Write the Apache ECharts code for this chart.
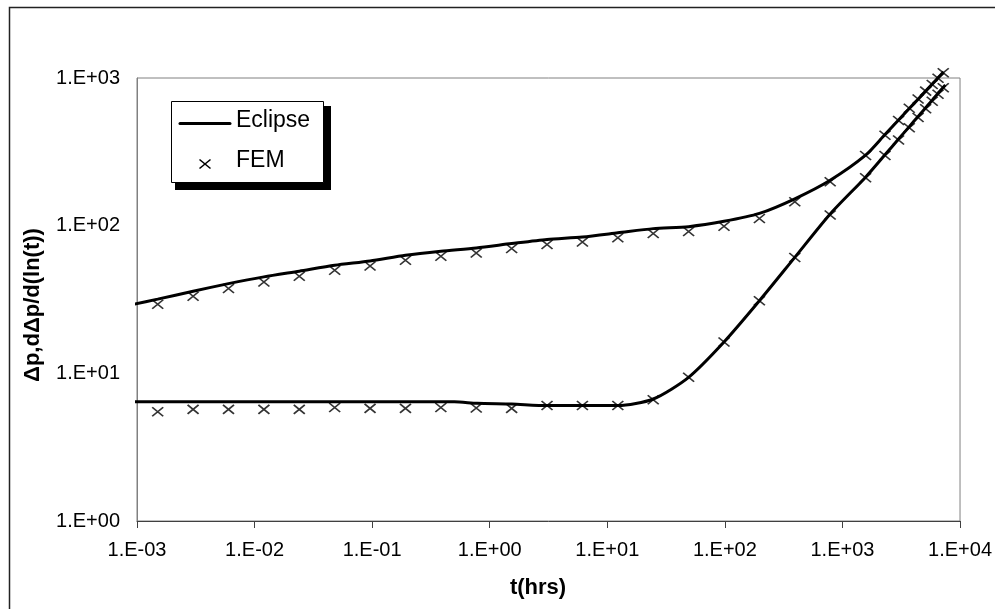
<!DOCTYPE html>
<html>
<head>
<meta charset="utf-8">
<script src="https://cdn.jsdelivr.net/npm/echarts@6/dist/echarts.min.js"></script>
<style>
html,body{margin:0;padding:0;background:#fff;}
#chart{width:995px;height:609px;}
</style>
</head>
<body>
<div id="chart"></div>
<script>
// ---- data ----
const xTickLabels = ['1.E-03','1.E-02','1.E-01','1.E+00','1.E+01','1.E+02','1.E+03','1.E+04'];
const yTickLabels = ['1.E+00','1.E+01','1.E+02','1.E+03'];

const femTime = [0.0015,0.003,0.006,0.012,0.024,0.048,0.096,0.192,0.384,0.768,1.536,3.072,6.144,12.29,24.58,49.15,98.3,196.6,393.2,786.4,1573,2300,3000,3700,4400,5100,5800,6500,7200];
const femDp = [29.4,33.3,37.5,41.6,45.5,49.9,53.4,58.3,62.1,65.4,70,74.6,77.6,82.8,88.4,91.2,99,112,145,198,299,410,515,625,720,815,905,995,1085];
const femDeriv = [5.49,5.70,5.70,5.70,5.70,5.88,5.79,5.79,5.86,5.82,5.79,6.05,6.05,6.05,6.63,9.4,16.3,31,60.8,118,211,299,380,460,540,620,695,775,860];

const eclDpTime = [0.0009,0.0015,0.003,0.006,0.012,0.024,0.048,0.096,0.192,0.384,0.768,1.536,3.072,6.144,12.29,24.58,49.15,98.3,196.6,393.2,786.4,1573,2300,3000,3700,4400,5100,5800,6500,7260];
const eclDp = [29.2,31.8,36.0,40.5,45.0,49.2,53.9,57.7,63.0,67.1,70.6,75.6,80.6,83.8,89.4,95.5,98.5,107,121,152,203,300,414,519,621,719,815,909,1002,1100];

const eclDerivTime = [0.0009,0.5,0.78,1.536,3.072,6.144,12.29,24.58,49.15,98.3,196.6,393.2,786.4,1573,2300,3000,3700,4400,5100,5800,6500,7500];
const eclDeriv = [6.41,6.41,6.26,6.19,6.05,6.05,6.05,6.7,9.4,16.3,31,61,120,213,302,386,468,549,628,707,786,897];

const seriesNames = ['Eclipse','FEM'];
const xTitle = 't(hrs)';
const yTitle = 'Δp,dΔp/d(ln(t))';

// ---- chart ----
const pairs = (xs, ys) => xs.map((x, i) => [x, ys[i]]);
const FONT = "'Liberation Sans', Arial, sans-serif";
const crossPath = 'path://M0,0L10,10M0,10L10,0';

const chart = echarts.init(document.getElementById('chart'), null, {renderer: 'canvas'});

const lineSeries = (name, data) => ({
  name, type: 'line', data, showSymbol: false, symbol: 'none',
  smooth: 0.25, clip: false, z: 3,
  lineStyle: {color: '#000', width: 3}
});
const femSeries = (name, data) => ({
  name, type: 'scatter', data, symbol: crossPath, symbolSize: [11, 9],
  clip: false, z: 2,
  itemStyle: {color: '#000', borderColor: '#000', borderWidth: 1.6}
});

chart.setOption({
  animation: false,
  backgroundColor: '#fff',
  grid: {left: 137, right: 32, top: 78, bottom: 88, containLabel: false,
         show: true, borderColor: '#808080', borderWidth: 1, backgroundColor: 'transparent'},
  xAxis: {
    type: 'log', logBase: 10, min: 0.001, max: 10000, splitNumber: 7,
    axisLine: {show: true, lineStyle: {color: '#404040', width: 1}},
    axisTick: {show: true, length: 7, inside: false, lineStyle: {color: '#404040'}},
    minorTick: {show: false},
    splitLine: {show: false},
    axisLabel: {
      margin: 19, color: '#000', fontFamily: FONT, fontSize: 20,
      formatter: v => xTickLabels[Math.round(Math.log10(v)) + 3]
    }
  },
  yAxis: {
    type: 'log', logBase: 10, min: 1, max: 1000, splitNumber: 3,
    axisLine: {show: true, lineStyle: {color: '#808080', width: 1}},
    axisTick: {show: false},
    splitLine: {show: false},
    axisLabel: {
      margin: 17, color: '#000', fontFamily: FONT, fontSize: 20,
      formatter: v => yTickLabels[Math.round(Math.log10(v))]
    }
  },
  series: [
    femSeries(seriesNames[1], pairs(femTime, femDp)),
    femSeries(seriesNames[1], pairs(femTime, femDeriv)),
    lineSeries(seriesNames[0], pairs(eclDpTime, eclDp)),
    lineSeries(seriesNames[0], pairs(eclDerivTime, eclDeriv))
  ],
  graphic: [
    {type: 'rect', shape: {x: 9.5, y: 7.5, width: 1000, height: 700},
     style: {fill: 'none', stroke: '#222', lineWidth: 1.5}, z: 1, silent: true},
    // legend box with shadow
    {type: 'rect', shape: {x: 175, y: 106, width: 156, height: 84},
     style: {fill: '#000'}, z: 10},
    {type: 'rect', shape: {x: 171.5, y: 101.5, width: 152, height: 81},
     style: {fill: '#fff', stroke: '#000', lineWidth: 1}, z: 11},
    {type: 'line', shape: {x1: 180, y1: 123.5, x2: 230, y2: 123.5},
     style: {stroke: '#000', lineWidth: 3, lineCap: 'round'}, z: 12},
    {type: 'text', x: 236, y: 121, z: 12,
     style: {text: seriesNames[0], fill: '#000', font: "23px " + FONT, textAlign: 'left', textVerticalAlign: 'middle'}},
    {type: 'line', shape: {x1: 199.5, y1: 159.5, x2: 210.5, y2: 168.5}, z: 12,
     style: {stroke: '#000', lineWidth: 1.6}},
    {type: 'line', shape: {x1: 199.5, y1: 168.5, x2: 210.5, y2: 159.5}, z: 12,
     style: {stroke: '#000', lineWidth: 1.6}},
    {type: 'text', x: 236, y: 161, z: 12,
     style: {text: seriesNames[1], fill: '#000', font: "23px " + FONT, textAlign: 'left', textVerticalAlign: 'middle'}},
    // axis titles
    {type: 'text', x: 538, y: 588, z: 12,
     style: {text: xTitle, fill: '#000', font: "bold 22px " + FONT, textAlign: 'center', textVerticalAlign: 'middle'}},
    {type: 'text', x: 33, y: 305, rotation: Math.PI / 2, z: 12,
     style: {text: yTitle, fill: '#000', font: "bold 22px " + FONT, textAlign: 'center', textVerticalAlign: 'middle'}}
  ]
});
</script>
</body>
</html>
